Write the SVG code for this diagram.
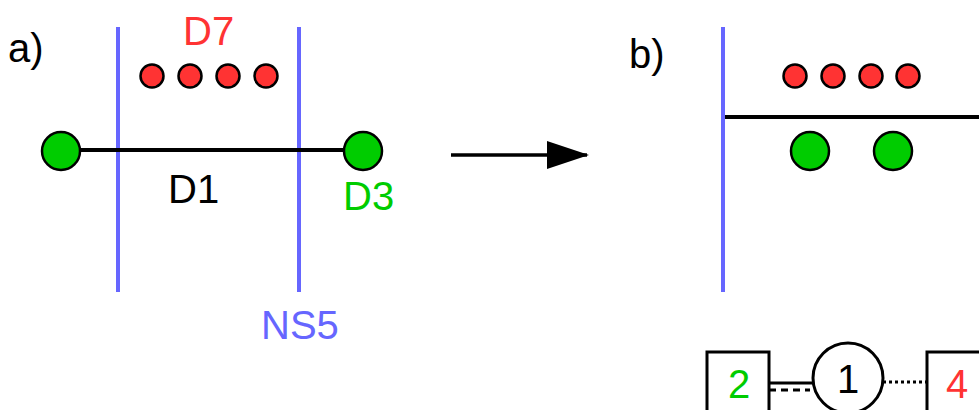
<svg xmlns="http://www.w3.org/2000/svg" width="979" height="410" viewBox="0 0 979 410">
<defs>
<style>
text{font-family:"Liberation Sans",Arial,sans-serif;font-size:40px}
.ns{stroke:#6666ff;stroke-width:4;fill:none}
.red{fill:#ff3333;stroke:#000;stroke-width:2.5}
.grn{fill:#00cc00;stroke:#000;stroke-width:2.5}
.ln{stroke:#000;stroke-width:4;fill:none}
.box{fill:#fff;stroke:#000;stroke-width:3}
</style>
<marker id="ah" markerUnits="userSpaceOnUse" markerWidth="44" markerHeight="30" refX="42" refY="14" orient="auto">
<path d="M2,0 L44,14 L2,28 Z" fill="#000"/>
</marker>
</defs>
<rect width="979" height="410" fill="#fff"/>
<g id="panel-a">
<text x="8" y="62" fill="#000">a)</text>
<line class="ns" x1="118" y1="27" x2="118" y2="292"/>
<line class="ns" x1="299" y1="27" x2="299" y2="292"/>
<text x="183" y="45" fill="#ff3333">D7</text>
<circle class="red" cx="152" cy="76" r="11.5"/>
<circle class="red" cx="190" cy="76" r="11.5"/>
<circle class="red" cx="228" cy="76" r="11.5"/>
<circle class="red" cx="266" cy="76" r="11.5"/>
<line class="ln" x1="61" y1="150" x2="363" y2="150"/>
<circle class="grn" cx="61" cy="151" r="19"/>
<circle class="grn" cx="363" cy="151" r="19"/>
<text x="168" y="203" fill="#000">D1</text>
<text x="343" y="210" fill="#00cc00">D3</text>
<text x="261" y="339" fill="#6666ff">NS5</text>
</g>
<g id="connectors">
<line x1="451" y1="155" x2="587" y2="155" stroke="#000" stroke-width="3.5" marker-end="url(#ah)"/>
<line x1="769" y1="383" x2="813" y2="383" stroke="#000" stroke-width="3"/>
<line x1="769" y1="390" x2="810" y2="390" stroke="#000" stroke-width="3" stroke-dasharray="7,5"/>
<line x1="883" y1="382" x2="927" y2="382" stroke="#000" stroke-width="3" stroke-dasharray="3,3"/>
</g>
<g id="panel-b">
<text x="629" y="68" fill="#000">b)</text>
<line class="ns" x1="723" y1="27" x2="723" y2="292"/>
<circle class="red" cx="795" cy="76" r="11.5"/>
<circle class="red" cx="833" cy="76" r="11.5"/>
<circle class="red" cx="871" cy="76" r="11.5"/>
<circle class="red" cx="908" cy="76" r="11.5"/>
<line class="ln" x1="725" y1="117" x2="979" y2="117"/>
<circle class="grn" cx="810" cy="151" r="19"/>
<circle class="grn" cx="893" cy="151" r="19"/>
</g>
<g id="node-2">
<rect class="box" x="707" y="352" width="62" height="70"/>
<text x="728" y="398" fill="#00cc00">2</text>
</g>
<g id="node-1">
<circle cx="848" cy="378" r="35" fill="#fff" stroke="#000" stroke-width="3"/>
<text x="837" y="393" fill="#000">1</text>
</g>
<g id="node-4">
<rect class="box" x="927" y="352" width="70" height="70"/>
<text x="946" y="398" fill="#ff3333">4</text>
</g>
</svg>
